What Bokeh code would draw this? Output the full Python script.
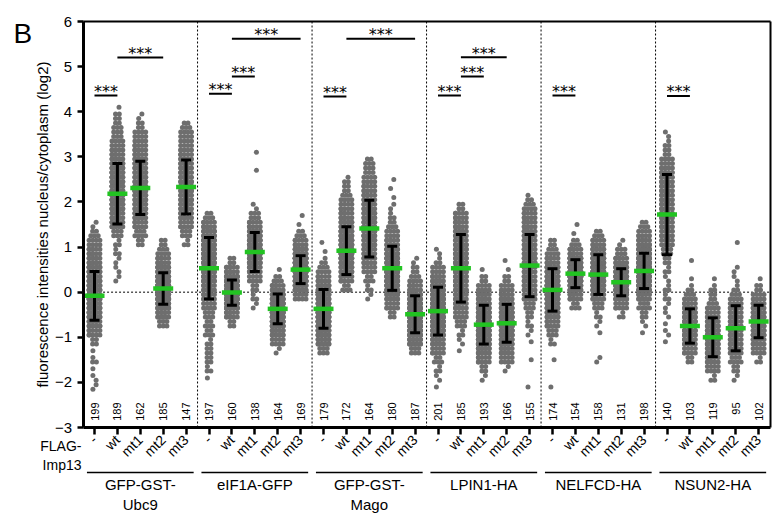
import math

from bokeh.core.properties import value
from bokeh.embed import file_html
from bokeh.models import FixedTicker, LinearAxis, Range1d
from bokeh.plotting import figure
from bokeh.resources import INLINE

# ---------------------------------------------------------------- data
categories = ["-", "wt", "mt1", "mt2", "mt3"]
reporters = ["GFP-GST-\nUbc9", "eIF1A-GFP", "GFP-GST-\nMago",
             "LPIN1-HA", "NELFCD-HA", "NSUN2-HA"]

cell_counts = [199, 189, 162, 185, 147,
               197, 160, 138, 164, 169,
               179, 172, 164, 180, 187,
               201, 185, 193, 166, 155,
               174, 154, 158, 131, 198,
               140, 103, 119, 95, 102]

means = [-0.08, 2.18, 2.31, 0.08, 2.33,
         0.53, -0.01, 0.89, -0.37, 0.50,
         -0.37, 0.92, 1.41, 0.53, -0.49,
         -0.42, 0.53, -0.72, -0.69, 0.59,
         0.05, 0.41, 0.39, 0.22, 0.47,
         1.72, -0.75, -1.00, -0.80, -0.65]

sds = [0.54, 0.67, 0.59, 0.35, 0.60,
       0.68, 0.28, 0.43, 0.33, 0.31,
       0.43, 0.53, 0.63, 0.49, 0.41,
       0.53, 0.75, 0.43, 0.42, 0.69,
       0.47, 0.31, 0.44, 0.30, 0.39,
       0.89, 0.38, 0.43, 0.50, 0.36]

# per-cell values, binned in steps of 0.2 (log2) starting at bin_start
bin_width = 0.2
bin_start = [-2.2, 0.2, 1.0, -0.8, 1.0,
             -2.0, -0.8, -0.4, -1.4, -0.2,
             -1.4, 0.0, -0.2, -0.6, -1.4,
             -2.2, -1.4, -2.0, -1.8, -2.2,
             -2.2, -0.4, -1.6, -0.6, -1.0,
             -1.2, -1.6, -2.0, -2.0, -1.6]
bin_counts = [
    [2, 2, 1, 3, 1, 4, 10, 15, 18, 20, 22, 22, 20, 18, 14, 12, 8, 5, 2],
    [2, 2, 2, 3, 3, 6, 10, 14, 19, 20, 20, 19, 18, 15, 12, 8, 6, 5, 4, 1],
    [4, 7, 10, 13, 15, 16, 17, 16, 15, 14, 12, 9, 8, 4, 2],
    [6, 14, 24, 32, 34, 30, 22, 12, 7, 4],
    [3, 6, 9, 12, 14, 15, 16, 15, 14, 12, 10, 8, 8, 5],
    [1, 3, 4, 4, 3, 5, 5, 6, 8, 10, 14, 18, 20, 22, 22, 20, 16, 11, 5],
    [4, 12, 26, 38, 38, 26, 12, 4],
    [2, 3, 4, 8, 14, 22, 27, 22, 16, 10, 6, 2, 0, 0, 0, 1, 0, 1],
    [2, 8, 18, 28, 34, 32, 24, 12, 5, 1],
    [8, 18, 32, 38, 34, 22, 10, 5, 1, 1],
    [6, 16, 22, 26, 26, 24, 20, 16, 11, 7, 3, 1, 1],
    [5, 10, 16, 22, 24, 24, 20, 16, 12, 9, 7, 4, 3],
    [2, 3, 5, 8, 11, 14, 16, 17, 17, 16, 14, 12, 10, 8, 6, 5],
    [4, 9, 16, 22, 26, 26, 24, 19, 13, 8, 5, 3, 2, 1, 1, 1],
    [6, 18, 26, 32, 32, 28, 20, 12, 7, 4, 2],
    [1, 2, 3, 5, 9, 14, 20, 24, 26, 26, 24, 20, 14, 8, 3, 2],
    [1, 2, 3, 6, 9, 12, 14, 15, 17, 17, 17, 17, 15, 14, 12, 10, 4],
    [2, 4, 10, 18, 26, 30, 30, 26, 20, 14, 8, 4, 1],
    [2, 8, 14, 20, 24, 26, 24, 20, 14, 8, 4, 1, 1],
    [1, 0, 0, 1, 0, 1, 2, 3, 4, 6, 9, 11, 13, 14, 16, 15, 14, 13, 12, 10, 7, 3],
    [1, 0, 0, 1, 0, 3, 6, 10, 16, 22, 26, 26, 22, 18, 12, 7, 4],
    [5, 12, 22, 34, 36, 26, 12, 5, 1, 1],
    [2, 0, 0, 1, 2, 3, 6, 12, 20, 26, 28, 24, 18, 11, 5],
    [3, 9, 18, 28, 30, 22, 13, 6, 2],
    [1, 2, 4, 7, 13, 22, 30, 34, 32, 24, 15, 9, 5],
    [1, 2, 1, 2, 2, 3, 3, 2, 3, 4, 6, 8, 9, 11, 11, 11, 11, 11, 11, 11, 8, 4, 3, 2],
    [4, 9, 14, 18, 18, 16, 12, 7, 3, 1, 0, 1],
    [3, 8, 13, 17, 19, 18, 15, 11, 7, 4, 3, 1],
    [2, 4, 7, 10, 12, 13, 12, 11, 9, 7, 3, 2, 2, 0, 0, 1],
    [3, 8, 13, 17, 18, 17, 13, 8, 4, 1],
]

# significance brackets: (first column, second column), bracket height
sig_pairs = [(0, 1), (1, 3), (5, 6), (6, 7), (6, 9), (10, 11), (11, 14),
             (15, 16), (16, 17), (16, 18), (20, 21), (25, 26)]
sig_heights = [4.36, 5.20, 4.40, 4.78, 5.62, 4.34, 5.62,
               4.36, 4.78, 5.21, 4.36, 4.35]
sig_text = "***"

y_ticks = [-3, -2, -1, 0, 1, 2, 3, 4, 5, 6]
y_label = "fluorescence intensities nucleus/cytoplasm (log2)"

# ---------------------------------------------------------------- geometry
W, H = 782, 514
XS = 22.9            # px per column
YS = 406 / 9         # px per log2 unit
X0_PX = 94           # pixel of the first column
TOP_PX = 21          # pixel of y = 6
Y_MIN, Y_MAX = y_ticks[0], y_ticks[-1]

n_per_group = len(categories)
ncols = len(cell_counts)
x_lo, x_hi = -0.5, ncols - 0.5


def px_x(px):
    return (px - X0_PX) / XS


def px_y(py):
    return Y_MAX - (py - TOP_PX) / YS


FONT = value("Liberation Sans")
GREY = "#6e6e6e"
GREEN = "#22c322"

p = figure(width=W, height=H,
           x_range=Range1d(px_x(0), px_x(W)),
           y_range=Range1d(px_y(H), px_y(0)),
           x_axis_type=None, y_axis_type=None,
           output_backend="svg", toolbar_location=None,
           min_border=0, min_border_left=0, min_border_right=0,
           min_border_top=0, min_border_bottom=0)
p.outline_line_color = None
p.background_fill_color = "white"
p.border_fill_color = "white"

# ---------------------------------------------------------------- axes
yax = LinearAxis(fixed_location=x_lo, bounds=(Y_MIN, Y_MAX),
                 ticker=FixedTicker(ticks=y_ticks),
                 axis_label=y_label)
yax.axis_line_width = 3
yax.major_tick_line_width = 2.5
yax.major_tick_out = 6
yax.major_tick_in = 0
yax.minor_tick_line_color = None
yax.major_label_standoff = 5
yax.major_label_text_font = "Liberation Sans"
yax.major_label_text_font_size = "15px"
yax.major_label_text_color = "black"
yax.axis_label_text_font = "Liberation Sans"
yax.axis_label_text_font_size = "15px"
yax.axis_label_text_font_style = "normal"
yax.axis_label_text_color = "black"
yax.axis_label_standoff = 1
p.add_layout(yax, "left")

xax = LinearAxis(fixed_location=Y_MIN, bounds=(x_lo, x_hi),
                 ticker=FixedTicker(ticks=list(range(ncols))),
                 major_label_overrides={i: categories[i % n_per_group]
                                        for i in range(ncols)})
xax.axis_line_width = 3
xax.major_tick_line_width = 2.5
xax.major_tick_out = 7
xax.major_tick_in = 0
xax.minor_tick_line_color = None
xax.major_label_orientation = math.pi / 4
xax.major_label_standoff = 3
xax.major_label_text_font = "Liberation Sans"
xax.major_label_text_font_size = "14px"
xax.major_label_text_color = "black"
p.add_layout(xax, "below")

# closing frame lines (top and right)
top_ax = LinearAxis(fixed_location=Y_MAX, bounds=(x_lo, x_hi),
                    ticker=FixedTicker(ticks=[]))
top_ax.axis_line_width = 2
p.add_layout(top_ax, "above")
right_ax = LinearAxis(fixed_location=x_hi, bounds=(Y_MIN, Y_MAX),
                      ticker=FixedTicker(ticks=[]))
right_ax.axis_line_width = 2
p.add_layout(right_ax, "right")

# ---------------------------------------------------------------- reference lines
sep_x = [g * n_per_group - 0.5 for g in range(1, len(reporters))]
p.segment(x0=sep_x, y0=[Y_MIN] * len(sep_x), x1=sep_x, y1=[Y_MAX] * len(sep_x),
          line_color="black", line_width=1, line_dash="2 2")
p.segment(x0=[x_lo], y0=[0], x1=[x_hi], y1=[0],
          line_color="black", line_width=1, line_dash="2 2")

# ---------------------------------------------------------------- dots (swarm)
# each bin is laid out in two rows; a row holds at most four visible slots,
# further points of a crowded row land on the same slots
slot_sets = {
    1: [0.0],
    2: [-1.9, 1.9],
    3: [-3.7, 0.0, 3.7],
    4: [-5.4, -1.8, 1.8, 5.4],
}
dot_x, dot_y = [], []
for i in range(ncols):
    for b, c in enumerate(bin_counts[i]):
        if c == 0:
            continue
        lo = bin_start[i] + b * bin_width
        nrows = 1 if c == 1 else 2
        rows = [c // nrows + (1 if r < c % nrows else 0) for r in range(nrows)]
        for r, k in enumerate(rows):
            yv = lo + (r + 0.5) * bin_width / nrows
            slots = slot_sets[min(k, 4)]
            jig = 0.0
            if k == 1:
                jig = 1.6 if (b + r) % 2 else -1.6
            for j in range(k):
                off = slots[j % len(slots)] + jig
                dot_x.append(i + off / XS)
                dot_y.append(yv)

p.scatter(dot_x, dot_y, size=5, fill_color=GREY, line_color=None)

# ---------------------------------------------------------------- mean +/- SD
cols = list(range(ncols))
lo_sd = [m - s for m, s in zip(means, sds)]
hi_sd = [m + s for m, s in zip(means, sds)]
cap = 5 / XS
p.segment(x0=cols, y0=lo_sd, x1=cols, y1=hi_sd, line_color="black", line_width=3)
p.segment(x0=[c - cap for c in cols], y0=lo_sd, x1=[c + cap for c in cols], y1=lo_sd,
          line_color="black", line_width=3)
p.segment(x0=[c - cap for c in cols], y0=hi_sd, x1=[c + cap for c in cols], y1=hi_sd,
          line_color="black", line_width=3)
half_mean = 10 / XS
p.segment(x0=[c - half_mean for c in cols], y0=means,
          x1=[c + half_mean for c in cols], y1=means,
          line_color=GREEN, line_width=4.5, line_cap="butt")

# ---------------------------------------------------------------- significance
p.segment(x0=[a for a, b in sig_pairs], y0=sig_heights,
          x1=[b for a, b in sig_pairs], y1=sig_heights,
          line_color="black", line_width=2)
p.text(x=[(a + b) / 2 for a, b in sig_pairs],
       y=[h + 4 / YS for h in sig_heights],
       text=[sig_text] * len(sig_pairs),
       text_align="center", text_baseline="alphabetic",
       text_font=value("DejaVu Sans"), text_font_size="16px", text_color="black")

# ---------------------------------------------------------------- cell numbers
p.text(x=cols, y=[px_y(402)] * ncols, text=[str(n) for n in cell_counts],
       angle=math.pi / 2, text_align="right", text_baseline="middle",
       text_font=FONT, text_font_size="11px", text_color="black")

# ---------------------------------------------------------------- labels under the axis
p.text(x=[px_x(81)], y=[px_y(437)], text=["FLAG-\nImp13"],
       text_align="right", text_baseline="top", text_line_height=1.2,
       text_font=FONT, text_font_size="14px", text_color="black")

g_first = [g * n_per_group for g in range(len(reporters))]
g_last = [g * n_per_group + n_per_group - 1 for g in range(len(reporters))]
line_y = px_y(472)
p.segment(x0=[a - 0.33 for a in g_first], y0=[line_y] * len(reporters),
          x1=[b + 0.33 for b in g_last], y1=[line_y] * len(reporters),
          line_color="black", line_width=1.5)
p.text(x=[(a + b) / 2 for a, b in zip(g_first, g_last)],
       y=[px_y(475)] * len(reporters), text=reporters,
       text_align="center", text_baseline="top", text_line_height=1.22,
       text_font=FONT, text_font_size="15px", text_color="black")

# panel letter
p.text(x=[px_x(13)], y=[px_y(33)], text=["B"],
       text_align="left", text_baseline="alphabetic",
       text_font=FONT, text_font_size="28px", text_color="black")

open("out.html", "w").write(file_html(p, INLINE))
